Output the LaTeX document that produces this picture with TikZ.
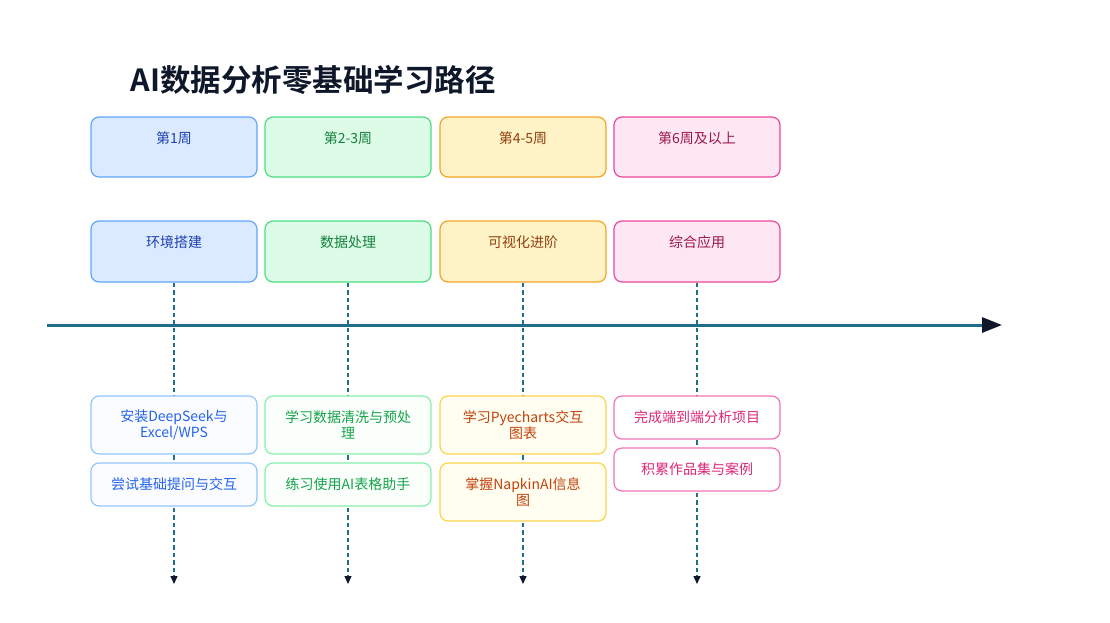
\documentclass[tikz,border=0pt]{standalone}
\usepackage{fontspec}
\setmainfont{Noto Sans CJK SC}
\newfontfamily\titlefont{Noto Sans CJK SC Bold}
\usetikzlibrary{arrows.meta,backgrounds}
\definecolor{navy}{HTML}{0F172A}
\definecolor{teal1}{HTML}{1E6E8C}
\definecolor{bfill}{HTML}{DBEAFE}\definecolor{bdraw}{HTML}{60A5FA}\definecolor{btext}{HTML}{1E40AF}
\definecolor{gfill}{HTML}{DCFCE7}\definecolor{gdraw}{HTML}{4ADE80}\definecolor{gtext}{HTML}{15803D}
\definecolor{yfill}{HTML}{FEF3C7}\definecolor{ydraw}{HTML}{F5A524}\definecolor{ytext}{HTML}{92400E}
\definecolor{pfill}{HTML}{FCE7F3}\definecolor{pdraw}{HTML}{EC4899}\definecolor{ptext}{HTML}{9D174D}
\definecolor{tbfill}{HTML}{FAFCFF}\definecolor{tbdraw}{HTML}{93C5FD}\definecolor{tbtext}{HTML}{2563EB}
\definecolor{tgfill}{HTML}{FAFFFB}\definecolor{tgdraw}{HTML}{86EFAC}\definecolor{tgtext}{HTML}{16A34A}
\definecolor{tyfill}{HTML}{FFFEF0}\definecolor{tydraw}{HTML}{FCD34D}\definecolor{tytext}{HTML}{C2410C}
\definecolor{tpfill}{HTML}{FFFFFF}\definecolor{tpdraw}{HTML}{F472B6}\definecolor{tptext}{HTML}{DB2777}
\tikzset{
  topbox/.style={draw=#1draw, fill=#1fill, text=#1text, line width=1.2pt, rounded corners=8pt,
    minimum width=166pt, minimum height=60pt, inner ysep=7pt, text height=19pt, text depth=27pt,
    font=\fontsize{14}{16}\selectfont},
  taskbox/.style={draw=t#1draw, fill=t#1fill, text=t#1text, line width=1.2pt, rounded corners=8pt,
    minimum width=166pt, align=center, font=\fontsize{14}{16.5}\selectfont},
  vline/.style={teal1, line width=1.3pt, dash pattern=on 4.5pt off 3pt,
    -{Triangle[length=8pt,width=7pt,color=navy,fill=navy]}},
}
\begin{document}
\begin{tikzpicture}[x=1pt,y=-1pt]
\useasboundingbox (0,0) rectangle (1110,622);
\node[anchor=west, text=navy, font=\titlefont\fontsize{30.5}{33}\selectfont] (title) at (127,80) {AI数据分析零基础学习路径};
% period boxes
\node[topbox=b] (w1) at (174,147) {第1周};
\node[topbox=g] (w2) at (348,147) {第2-3周};
\node[topbox=y] (w3) at (523,147) {第4-5周};
\node[topbox=p] (w4) at (697,147) {第6周及以上};
% phase boxes
\node[topbox=b, minimum height=61pt, text depth=28pt] (h1) at (174,251.5) {环境搭建};
\node[topbox=g, minimum height=61pt, text depth=28pt] (h2) at (348,251.5) {数据处理};
\node[topbox=y, minimum height=61pt, text depth=28pt] (h3) at (523,251.5) {可视化进阶};
\node[topbox=p, minimum height=61pt, text depth=28pt] (h4) at (697,251.5) {综合应用};
% axis
\coordinate (axL) at (47,325);
\coordinate (axR) at (1002,325);
\draw[teal1, line width=3pt, -{Triangle[length=20pt,width=15pt,color=navy,fill=navy]}] (axL) -- (axR);
% task boxes
\node[taskbox=b, minimum height=58pt] (t11) at (174,425) {安装DeepSeek与\\Excel/WPS};
\node[taskbox=b, minimum height=43pt] (t12) at (174,484.5) {尝试基础提问与交互};
\node[taskbox=g, minimum height=58pt] (t21) at (348,425) {学习数据清洗与预处\\理};
\node[taskbox=g, minimum height=43pt] (t22) at (348,484.5) {练习使用AI表格助手};
\node[taskbox=y, minimum height=58pt] (t31) at (523,425) {学习Pyecharts交互\\图表};
\node[taskbox=y, minimum height=58pt] (t32) at (523,492) {掌握NapkinAI信息\\图};
\node[taskbox=p, minimum height=43pt] (t41) at (697,417.5) {完成端到端分析项目};
\node[taskbox=p, minimum height=43pt] (t42) at (697,469.5) {积累作品集与案例};
% vertical dashed lines
\coordinate (e1) at (174,584);
\coordinate (e2) at (348,584);
\coordinate (e3) at (523,584);
\coordinate (e4) at (697,584);
\begin{pgfonlayer}{background}
\draw[vline] (h1.south) -- (e1);
\draw[vline] (h2.south) -- (e2);
\draw[vline] (h3.south) -- (e3);
\draw[vline] (h4.south) -- (e4);
\end{pgfonlayer}
\end{tikzpicture}
\end{document}
